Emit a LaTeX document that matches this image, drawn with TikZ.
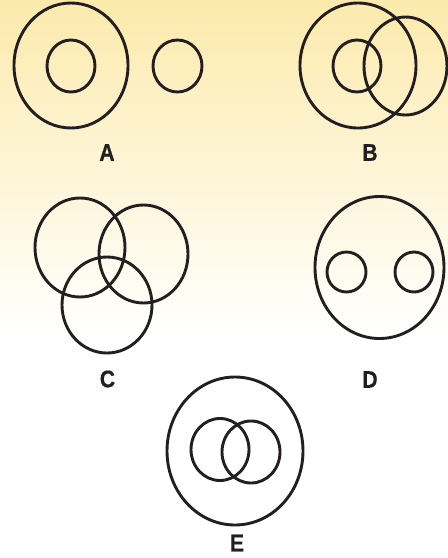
\documentclass[tikz,border=0pt]{standalone}
\usepackage{fontspec}
\setmainfont{Liberation Sans}
\newfontfamily\lblfont[FakeStretch=0.88,FakeBold=0.6]{Liberation Sans Bold}
\definecolor{inkc}{RGB}{35,31,32}
\definecolor{topy}{RGB}{252,234,172}
\begin{document}
\begin{tikzpicture}[x=1pt,y=-1pt,
  ring/.style={draw=inkc,line width=2.9pt},
  lbl/.style={font=\lblfont\fontsize{24}{24}\selectfont,text=inkc,inner sep=0pt}]
\useasboundingbox (0,0) rectangle (448,558);
\shade[top color=topy,bottom color=white] (0,0) rectangle (448,335);
\fill[white] (0,335) rectangle (448,558);
% A
\draw[ring] (71,65.5) ellipse [x radius=57,y radius=62.5];
\draw[ring] (71,66) ellipse [x radius=24,y radius=26];
\draw[ring] (177.5,66) ellipse [x radius=24.5,y radius=26];
\node[lbl] (la) at (107,152.5) {A};
% B
\draw[ring] (358,65.5) ellipse [x radius=58,y radius=62.5];
\draw[ring] (357,66) ellipse [x radius=24,y radius=26];
\draw[ring] (405.5,66) ellipse [x radius=41.5,y radius=49];
\node[lbl] (lb) at (370,152.5) {B};
% C
\draw[ring] (80,247.5) ellipse [x radius=45,y radius=49.5];
\draw[ring] (143.5,254) ellipse [x radius=44.5,y radius=49];
\draw[ring] (107,305) ellipse [x radius=45,y radius=48];
\node[lbl] (lc) at (107.5,379) {C};
% D
\draw[ring] (379.5,267.5) ellipse [x radius=64.5,y radius=71];
\draw[ring] (346.5,272) ellipse [x radius=19.5,y radius=20];
\draw[ring] (414,272) ellipse [x radius=19,y radius=20];
\node[lbl] (ld) at (370,379.5) {D};
% E
\draw[ring] (235,451) ellipse [x radius=68,y radius=74];
\draw[ring] (220,449.5) ellipse [x radius=29,y radius=31];
\draw[ring] (251,452) ellipse [x radius=29,y radius=31];
\node[lbl] (le) at (237,543) {E};
\end{tikzpicture}
\end{document}
